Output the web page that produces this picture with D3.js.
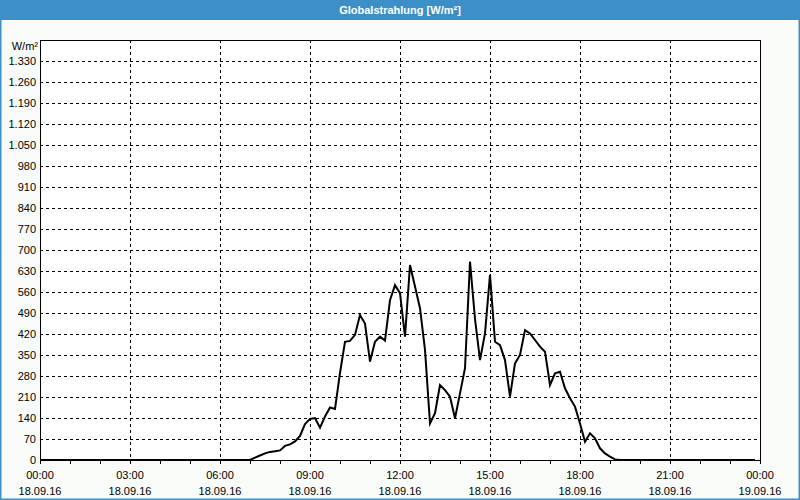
<!DOCTYPE html>
<html>
<head>
<meta charset="utf-8">
<script src="https://cdn.jsdelivr.net/npm/d3@7"></script>
<style>
  html, body { margin: 0; padding: 0; background: #f8fbf8; }
  svg { display: block; }
  text { font-family: "Liberation Sans", Arial, sans-serif; font-size: 11px; fill: #000; }
</style>
</head>
<body>
<svg id="chart" width="800" height="500"></svg>
<script>
// ---- Data ----
const chartTitle = "Globalstrahlung [W/m²]";
const unitLabel = "W/m²";
const intervalMinutes = 10; // one reading every 10 minutes, starting 18.09.16 00:00
const radiation = [
  0,0,0,0,0,0,0,0,0,0,0,0,0,0,0,0,0,0,0,0,0,0,0,0,
  0,0,0,0,0,0,0,0,0,0,0,0,0,0,0,0,0,0,
  0,8,15,22,27,29,32,47,52,62,80,120,137,140,108,145,175,170,
  290,394,397,417,483,455,328,394,411,398,533,583,556,411,650,578,506,367,
  122,156,250,233,211,139,222,306,661,470,333,422,617,394,383,333,211,322,
  350,433,422,400,378,361,250,289,294,239,206,178,122,61,89,72,39,22,
  11,2,0,0,0,0,0,0,0,0,0,0,0,0,0,0,0,0,0,0,0,0,0,0,0,0,0,0,0,0
];
const xTickHours = [0, 3, 6, 9, 12, 15, 18, 21, 24];
const xTimeLabels = ["00:00","03:00","06:00","09:00","12:00","15:00","18:00","21:00","00:00"];
const xDateLabels = ["18.09.16","18.09.16","18.09.16","18.09.16","18.09.16","18.09.16","18.09.16","18.09.16","19.09.16"];
const yTicks = [0,70,140,210,280,350,420,490,560,630,700,770,840,910,980,1050,1120,1190,1260,1330];
const yMax = 1400;

// ---- Layout ----
const W = 800, H = 500;
const plot = { left: 40, top: 40, right: 760, bottom: 460 };
const blue = "#3d90c7";

const svg = d3.select("#chart");
const deLocale = d3.formatLocale({ decimal: ",", thousands: ".", grouping: [3], currency: ["", "€"] });
const fmt = deLocale.format(",d");

const x = d3.scaleLinear().domain([0, 24]).range([plot.left, plot.right]);
const y = d3.scaleLinear().domain([0, yMax]).range([plot.bottom, plot.top]);

// background & frame
svg.append("rect").attr("x", 0).attr("y", 0).attr("width", W).attr("height", H).attr("fill", "#f8fbf8");
svg.append("rect").attr("x", 0).attr("y", 0).attr("width", W).attr("height", 20).attr("fill", blue);
svg.append("rect").attr("x", 0.5).attr("y", 0.5).attr("width", W - 1).attr("height", H - 1)
  .attr("fill", "none").attr("stroke", blue).attr("stroke-width", 2);
svg.append("text").attr("x", W / 2).attr("y", 14).attr("text-anchor", "middle")
  .style("fill", "#fff").style("font-weight", "bold").style("font-size", "11px").text(chartTitle);

// plot background
svg.append("rect").attr("x", plot.left).attr("y", plot.top)
  .attr("width", plot.right - plot.left).attr("height", plot.bottom - plot.top).attr("fill", "#fff");

// horizontal grid
const g = svg.append("g").attr("shape-rendering", "crispEdges");
g.selectAll("line.hg").data(yTicks.filter(v => v > 0)).join("line")
  .attr("x1", plot.left).attr("x2", plot.right)
  .attr("y1", d => Math.round(y(d)) + 0.5).attr("y2", d => Math.round(y(d)) + 0.5)
  .attr("stroke", "#000").attr("stroke-dasharray", "3,3");
// vertical grid
g.selectAll("line.vg").data(xTickHours.filter(h => h > 0 && h < 24)).join("line")
  .attr("y1", plot.top).attr("y2", plot.bottom)
  .attr("x1", d => Math.round(x(d)) + 0.5).attr("x2", d => Math.round(x(d)) + 0.5)
  .attr("stroke", "#000").attr("stroke-dasharray", "3,3");

// plot border
g.append("rect").attr("x", plot.left + 0.5).attr("y", plot.top + 0.5)
  .attr("width", plot.right - plot.left).attr("height", plot.bottom - plot.top)
  .attr("fill", "none").attr("stroke", "#000");

// hourly minor ticks below the axis
const hours = d3.range(0, 25);
g.selectAll("line.mt").data(hours).join("line")
  .attr("x1", d => Math.round(x(d)) + 0.5).attr("x2", d => Math.round(x(d)) + 0.5)
  .attr("y1", plot.bottom).attr("y2", plot.bottom + 4)
  .attr("stroke", "#000");

// y labels
svg.selectAll("text.yl").data(yTicks).join("text")
  .attr("x", 36).attr("y", d => Math.round(y(d)) + 4)
  .attr("text-anchor", "end").text(d => fmt(d));
svg.append("text").attr("x", 38).attr("y", 50).attr("text-anchor", "end").text(unitLabel);

// x labels
svg.selectAll("text.xt").data(xTickHours).join("text")
  .attr("x", d => x(d)).attr("y", 479).attr("text-anchor", "middle")
  .text((d, i) => xTimeLabels[i]);
svg.selectAll("text.xd").data(xTickHours).join("text")
  .attr("x", d => x(d)).attr("y", 495).attr("text-anchor", "middle")
  .text((d, i) => xDateLabels[i]);

// data line
const line = d3.line()
  .x((d, i) => x(i * intervalMinutes / 60))
  .y(d => y(d));
svg.append("path").datum(radiation)
  .attr("d", line)
  .attr("fill", "none").attr("stroke", "#000").attr("stroke-width", 2)
  .attr("stroke-linejoin", "miter");
</script>
</body>
</html>
